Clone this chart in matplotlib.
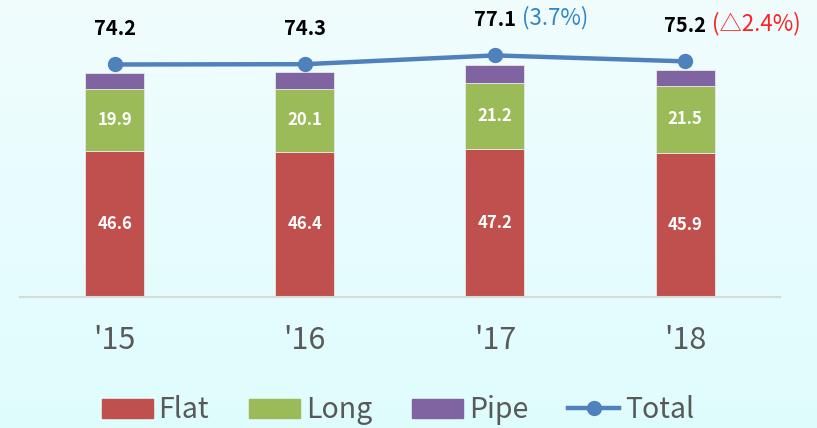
import numpy as np
import matplotlib
matplotlib.use('Agg')
import matplotlib.pyplot as plt
from matplotlib.lines import Line2D
from matplotlib.patches import Patch

plt.rcParams['font.family'] = ['Noto Sans CJK KR', 'DejaVu Sans']

years = ["'15", "'16", "'17", "'18"]
flat = [46.6, 46.4, 47.2, 45.9]
long_ = [19.9, 20.1, 21.2, 21.5]
pipe = [5.1, 5.3, 5.6, 5.0]
total = [74.2, 74.3, 77.1, 75.2]
change = ['', '', '(3.7%)', '(△2.4%)']
change_color = ['', '', '#2E86C8', '#FF2020']

c_flat = '#C0504D'
c_long = '#9BBB59'
c_pipe = '#8064A2'
c_total = '#4F81BD'

fig = plt.figure(figsize=(8.17, 4.28), dpi=100)

# 背景渐变
bg = fig.add_axes([0, 0, 1, 1], zorder=-10)
grad = np.linspace(0, 1, 256).reshape(-1, 1)
top = np.array([0.945, 0.988, 0.992])
bot = np.array([0.875, 0.992, 0.996])
img = top + (bot - top) * grad[..., None]
bg.imshow(img, aspect='auto', extent=[0, 1, 0, 1])
bg.axis('off')

ax = fig.add_axes([0.0239, 0.306, 0.931, 0.659])
ax.patch.set_alpha(0)
x = np.arange(len(years))
w = 0.31
ax.bar(x, flat, w, color=c_flat, edgecolor='#E8E8E8', linewidth=0.6)
ax.bar(x, long_, w, bottom=flat, color=c_long, edgecolor='#E8E8E8', linewidth=0.6)
bottom2 = np.array(flat) + np.array(long_)
ax.bar(x, pipe, w, bottom=bottom2, color=c_pipe, edgecolor='#E8E8E8', linewidth=0.6)
ax.plot(x, total, color=c_total, lw=3.2, marker='o', ms=10, zorder=5)

for i in range(len(years)):
    ax.text(x[i], flat[i] / 2, f'{flat[i]:.1f}', ha='center', va='center',
            color='white', fontsize=12, fontweight='bold')
    ax.text(x[i], flat[i] + long_[i] / 2, f'{long_[i]:.1f}', ha='center', va='center',
            color='white', fontsize=12, fontweight='bold')
    ax.annotate(f'{total[i]:.1f}', (x[i], total[i]), xytext=(0, 26),
                textcoords='offset points', ha='center', va='center',
                fontsize=14.5, fontweight='bold', color='black')
    if change[i]:
        ax.annotate(change[i], (x[i], total[i]), xytext=(19.5, 27),
                    textcoords='offset points', ha='left', va='center',
                    fontsize=16, color=change_color[i])

ax.set_xlim(-0.5, 3.5)
ax.set_ylim(0, 90)
ax.set_xticks(x)
ax.set_xticklabels(years, fontsize=22, color='#595959')
ax.tick_params(axis='x', length=0, pad=20)
ax.set_yticks([])
for s in ['top', 'right', 'left']:
    ax.spines[s].set_visible(False)
ax.spines['bottom'].set_color('#D9D9D9')
ax.spines['bottom'].set_linewidth(1.5)

handles = [Patch(color=c_flat), Patch(color=c_long), Patch(color=c_pipe),
           Line2D([], [], color=c_total, lw=3.2, marker='o', ms=10)]
leg = fig.legend(handles, ['Flat', 'Long', 'Pipe', 'Total'], loc='center',
                 bbox_to_anchor=(0.487, 0.042), ncol=4, frameon=False,
                 fontsize=20.5, handlelength=1.8, handleheight=0.65,
                 handletextpad=0.2, columnspacing=1.4)
for t in leg.get_texts():
    t.set_color('#595959')

fig.savefig('out.png', dpi=100)
